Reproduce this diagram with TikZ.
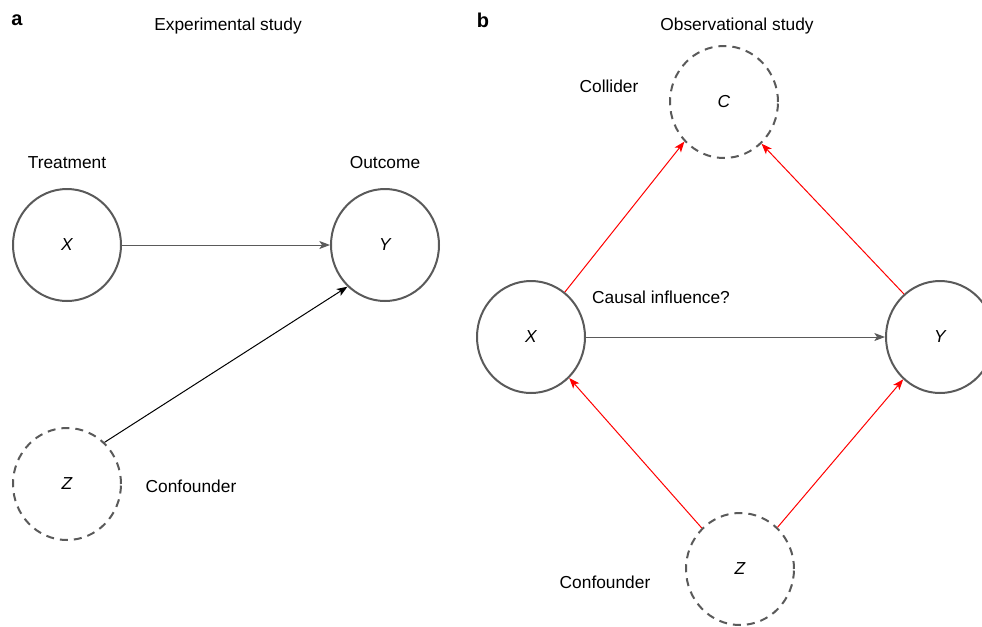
\documentclass[tikz,border=0pt]{standalone}
\usepackage{fontspec}
\setmainfont{Liberation Sans}
\usepackage{xcolor}
\usetikzlibrary{shapes.geometric,arrows.meta}
\definecolor{nodegray}{RGB}{90,90,90}
\definecolor{arrred}{RGB}{255,0,0}
\tikzset{
    var/.style={draw=nodegray, line width=1.5pt, ellipse, minimum width=81pt, minimum height=84pt, inner sep=0pt, font=\fontsize{13}{15}\selectfont\itshape},
    latent/.style={var, dash pattern=on 6pt off 4.5pt},
    lbl/.style={inner sep=0.75pt, anchor=center},
    panel/.style={lbl, font=\fontsize{15}{17}\selectfont\bfseries},
    arr/.style={line width=0.75pt, -{Stealth[length=8pt,width=6pt,inset=2pt]}},
}

\begin{document}
\begin{tikzpicture}[x=0.75pt,y=0.75pt,yscale=-1,xscale=1,font=\fontsize{13}{15}\selectfont]
                \useasboundingbox (0,0) rectangle (982,626);
                % panel a
                \node [var] (Xa) at (67,245) {X};
                \node [var] (Ya) at (385,245) {Y};
                \node [latent] (Za) at (67,484) {Z};
                \draw [arr, nodegray] (Xa) -- (Ya);
                \draw [arr, black] (Za.48) -- (Ya.228);

                % panel b
                \node [latent] (Cb) at (724,102) {C};
                \node [var] (Xb) at (531,337) {X};
                \node [var] (Yb) at (940,337) {Y};
                \node [latent] (Zb) at (740,569) {Z};
                \draw [arr, nodegray] (Xb) -- (Yb);
                \draw [arr, arrred] (Xb.53) -- (Cb.225);
                \draw [arr, arrred] (Yb.130) -- (Cb.312);
                \draw [arr, arrred] (Zb.133) -- (Xb.313);
                \draw [arr, arrred] (Zb.48) -- (Yb.229);

                % Text Node
                \node [panel] (pa) at (17,20) {a};
                % Text Node
                \node [lbl] (ta) at (228,26) {Experimental study};
                % Text Node
                \node [lbl] (treat) at (67,163) {Treatment};
                % Text Node
                \node [lbl] (outc) at (385,163) {Outcome};
                % Text Node
                \node [lbl] (confa) at (191,486) {Confounder};
                % Text Node
                \node [panel] (pb) at (483,20) {b};
                % Text Node
                \node [lbl] (tb) at (737,26) {Observational study};
                % Text Node
                \node [lbl] (coll) at (609,86) {Collider};
                % Text Node
                \node [lbl] (caus) at (661,297) {Causal influence?};
                % Text Node
                \node [lbl] (confb) at (605,582) {Confounder};
            \end{tikzpicture}
\end{document}
